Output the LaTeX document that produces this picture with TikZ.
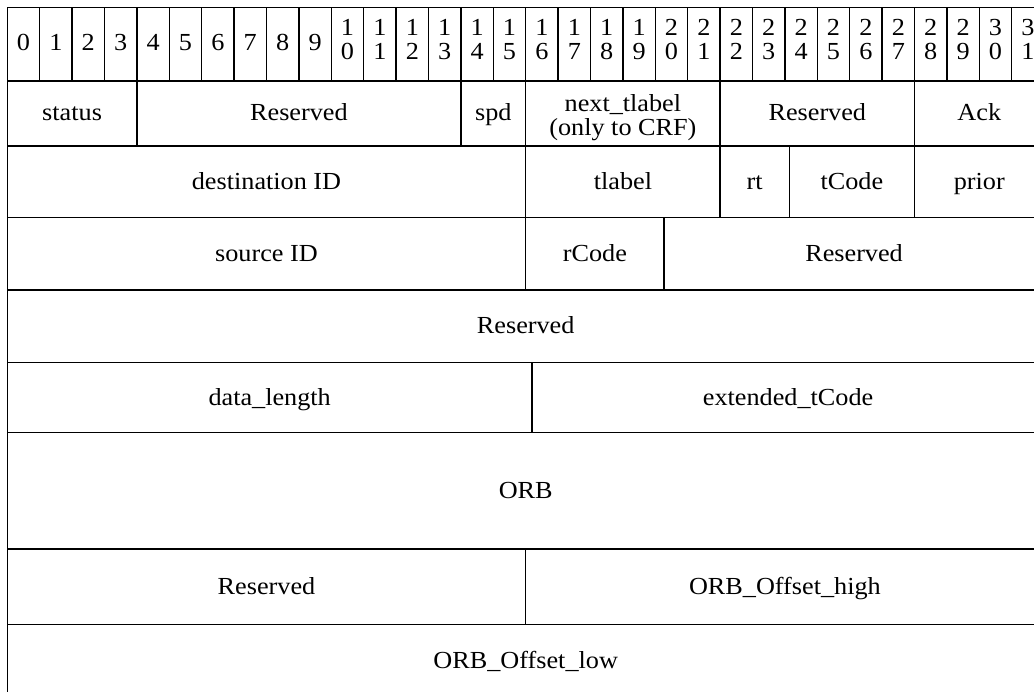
\documentclass[tikz,border=0pt]{standalone}
\usepackage{fontspec}
\setmainfont{Liberation Serif}[FakeStretch=1.07]
\begin{document}
\begin{tikzpicture}[x=1pt,y=-1pt,line width=1.5pt,
  fieldtext/.style={font=\fontsize{24.5}{24}\selectfont,inner sep=0pt,anchor=base},
  gridline/.style={draw=black,line width=1.5pt}]
\useasboundingbox (0,0) rectangle (1034,692);
\fill[white] (0,0) rectangle (1034,692);
\clip (0,0) rectangle (1034,692);
% cell: name, x1, y1, x2, y2, text  (text baseline 7.4 below the centre)
\newcommand\fieldcell[6]{%
  \draw[gridline] (#2,#3) rectangle (#4,#5);
  \node[fieldtext] (#1) at ({(#2+#4)/2},{(#3+#5)/2+7.4}) {#6};}
\newcommand\twolines[2]{\begin{tabular}[t]{@{}c@{}}#1\\#2\end{tabular}}
% header row with bit numbers
\foreach \i in {0,...,31}{%
  \pgfmathsetmacro\xa{7.3+32.4*\i}
  \pgfmathsetmacro\xb{\xa+32.4}
  \draw[gridline] (\xa,7.3) rectangle (\xb,81);
  \pgfmathtruncatemacro\tens{\i/10}
  \pgfmathtruncatemacro\ones{\i-10*\tens}
  \ifnum\i<10
    \node[fieldtext] (h\i) at ({(\xa+\xb)/2},50.7) {\i};
  \else
    \node[fieldtext] (h\i) at ({(\xa+\xb)/2},36) {\twolines{\tens}{\ones}};
  \fi
}
% row 1
\fieldcell{status}{7.3}{81}{136.9}{146}{status}
\fieldcell{resA}{136.9}{81}{460.9}{146}{Reserved}
\fieldcell{spd}{460.9}{81}{525.7}{146}{spd}
\draw[gridline] (525.7,81) rectangle (720.1,146);
\node[fieldtext] (nexttl) at (622.9,111.5) {\twolines{next\_tlabel}{(only to CRF)}};
\fieldcell{resB}{720.1}{81}{914.5}{146}{Reserved}
\fieldcell{ack}{914.5}{81}{1044.1}{146}{Ack}
% row 2
\fieldcell{dest}{7.3}{146}{525.7}{217.7}{destination ID}
\fieldcell{tlabel}{525.7}{146}{720.1}{217.7}{tlabel}
\fieldcell{rt}{720.1}{146}{789.3}{217.7}{rt}
\fieldcell{tcode}{789.3}{146}{914.5}{217.7}{tCode}
\fieldcell{prior}{914.5}{146}{1044.1}{217.7}{prior}
% row 3
\fieldcell{src}{7.3}{217.7}{525.7}{290}{source ID}
\fieldcell{rcode}{525.7}{217.7}{664}{290}{rCode}
\fieldcell{resC}{664}{217.7}{1044.1}{290}{Reserved}
% row 4
\fieldcell{resD}{7.3}{290}{1044.1}{362.7}{Reserved}
% row 5
\fieldcell{dlen}{7.3}{362.7}{532}{432.7}{data\_length}
\fieldcell{ext}{532}{362.7}{1044.1}{432.7}{extended\_tCode}
% row 6
\fieldcell{orb}{7.3}{432.7}{1044.1}{549}{ORB}
% row 7
\fieldcell{resE}{7.3}{549}{525.7}{624.3}{Reserved}
\fieldcell{offh}{525.7}{549}{1044.1}{624.3}{ORB\_Offset\_high}
% row 8
\fieldcell{offl}{7.3}{624.3}{1044.1}{697}{ORB\_Offset\_low}
\end{tikzpicture}
\end{document}
